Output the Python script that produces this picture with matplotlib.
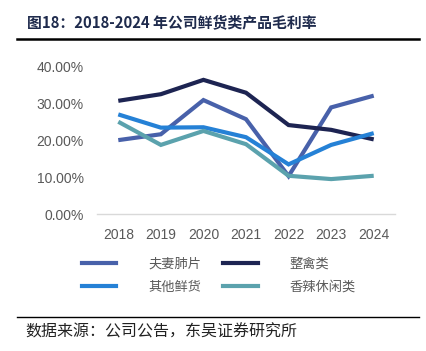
import matplotlib
matplotlib.use("Agg")
import matplotlib.pyplot as plt
from matplotlib.lines import Line2D

plt.rcParams['font.family'] = ['Noto Sans CJK SC', 'DejaVu Sans']

years = ["2018", "2019", "2020", "2021", "2022", "2023", "2024"]
fuqi = [20.1, 21.7, 31.0, 25.8, 10.3, 29.0, 32.2]
zhengqin = [30.8, 32.6, 36.5, 33.0, 24.2, 22.9, 20.3]
qita = [27.1, 23.5, 23.6, 20.9, 13.5, 18.8, 22.0]
xiangla = [25.1, 18.8, 22.6, 19.0, 10.4, 9.5, 10.4]
series_names = ["夫妻肺片", "整禽类", "其他鲜货", "香辣休闲类"]
yticks = [0, 10, 20, 30, 40]
ytick_labels = ["0.00%", "10.00%", "20.00%", "30.00%", "40.00%"]

colors = ["#4861aa", "#1d2452", "#2581d6", "#5ba2ad"]

W, H = 426, 351
fig = plt.figure(figsize=(W / 100, H / 100), dpi=100)

ax = fig.add_axes([97 / W, 1 - 214 / H, (395 - 97) / W, (214 - 67) / H])
x = list(range(len(years)))
for vals, c in zip([fuqi, zhengqin, qita, xiangla], colors):
    ax.plot(x, vals, color=c, lw=3, solid_capstyle='butt', solid_joinstyle='miter')

ax.set_xlim(-0.5, len(years) - 0.5)
ax.set_ylim(0, 40)
ax.set_yticks(yticks)
ax.set_yticklabels(ytick_labels, family=['Liberation Sans'], fontsize=10, color="#595959")
ax.set_xticks(x)
ax.set_xticklabels(years, family=['Liberation Sans'], fontsize=10, color="#595959")
for s in ["top", "right", "left"]:
    ax.spines[s].set_visible(False)
ax.spines["bottom"].set_color("#d9d9d9")
ax.spines["bottom"].set_linewidth(1)
ax.tick_params(axis='both', length=0)
ax.tick_params(axis='y', pad=9.4)
ax.tick_params(axis='x', pad=10)

# legend
handles = [Line2D([0], [0], color=c, lw=3) for c in colors]
order = [0, 2, 1, 3]
leg = fig.legend([handles[i] for i in order], [series_names[i] for i in order],
                 ncol=2, loc='center left', bbox_to_anchor=(82 / W, 1 - 276 / H),
                 frameon=False, fontsize=9.5, handlelength=2.6, handletextpad=2.4,
                 columnspacing=1.7, labelspacing=0.77, labelcolor="#595959",
                 borderpad=0, borderaxespad=0)

# title
fig.text(27 / W, 1 - 22 / H, "图18：2018-2024 年公司鲜货类产品毛利率",
         fontsize=10.7, fontweight='bold', color="#1f2b4d", va='center', ha='left')
fig.add_artist(Line2D([17 / W, 419 / W], [1 - 39 / H, 1 - 39 / H], color='black', lw=1.8))

# footer
fig.add_artist(Line2D([17 / W, 419 / W], [1 - 317 / H, 1 - 317 / H], color='black', lw=1.0))
fig.text(25 / W, 1 - 332 / H, "数据来源：公司公告，东吴证券研究所",
         fontsize=11.5, color="#222222", va='center', ha='left')

fig.savefig("out.png", dpi=100)
